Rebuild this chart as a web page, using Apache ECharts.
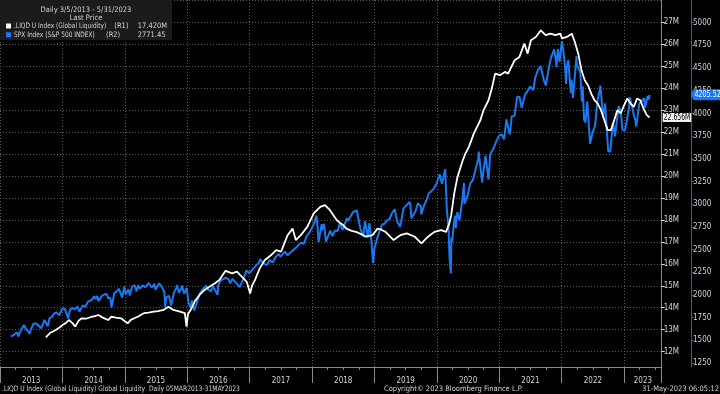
<!DOCTYPE html>
<html><head><meta charset="utf-8">
<script src="https://cdn.jsdelivr.net/npm/echarts@6/dist/echarts.min.js"></script>
<style>html,body{margin:0;padding:0;background:#000}#c{width:720px;height:394px}</style>
</head><body><div id="c"></div>
<script>
// ---------------- DATA ----------------
const liqDates = ['2013-09-26','2013-10-20','2013-11-23','2013-12-15','2014-01-01','2014-01-20','2014-02-08','2014-03-01','2014-03-17','2014-04-05','2014-04-24','2014-05-20','2014-06-21','2014-07-10','2014-07-30','2014-08-25','2014-09-25','2014-10-14','2014-11-10','2014-12-10','2014-12-30','2015-01-18','2015-02-05','2015-02-25','2015-03-20','2015-04-22','2015-05-20','2015-06-19','2015-07-15','2015-08-15','2015-09-13','2015-10-12','2015-11-19','2015-12-18','2015-12-28','2016-01-05','2016-01-25','2016-02-15','2016-03-13','2016-04-10','2016-05-10','2016-06-10','2016-07-07','2016-08-13','2016-09-20','2016-10-19','2016-11-16','2016-12-15','2017-01-04','2017-01-15','2017-02-01','2017-03-01','2017-03-31','2017-05-08','2017-06-05','2017-07-04','2017-08-11','2017-09-09','2017-09-28','2017-10-27','2017-12-04','2018-01-11','2018-02-18','2018-03-18','2018-04-16','2018-05-25','2018-06-15','2018-07-02','2018-07-21','2018-08-20','2018-09-16','2018-10-15','2018-11-12','2018-12-20','2019-01-19','2019-02-10','2019-03-07','2019-04-23','2019-06-01','2019-07-09','2019-08-25','2019-10-03','2019-11-10','2019-12-18','2020-01-26','2020-02-24','2020-03-14','2020-03-25','2020-04-12','2020-05-01','2020-05-20','2020-06-01','2020-06-17','2020-07-07','2020-08-05','2020-08-24','2020-09-12','2020-10-01','2020-10-30','2020-11-18','2020-12-08','2021-01-05','2021-02-03','2021-02-22','2021-03-12','2021-04-01','2021-04-29','2021-05-28','2021-06-16','2021-07-05','2021-08-03','2021-09-01','2021-09-29','2021-10-28','2021-11-25','2021-12-24','2022-01-03','2022-01-31','2022-03-01','2022-03-19','2022-04-08','2022-04-27','2022-05-16','2022-06-04','2022-06-23','2022-07-12','2022-07-31','2022-08-19','2022-09-08','2022-09-27','2022-10-16','2022-11-04','2022-11-23','2022-12-12','2023-01-01','2023-01-20','2023-02-08','2023-02-27','2023-03-18','2023-04-06','2023-04-25','2023-05-14','2023-05-30'];
const liqValues = [12.65,12.85,12.99,13.1,13.21,13.3,13.44,13.3,13.14,13.4,13.52,13.5,13.59,13.62,13.67,13.55,13.44,13.59,13.55,13.52,13.4,13.29,13.45,13.52,13.6,13.75,13.78,13.82,13.85,13.9,14.05,13.9,13.82,13.75,13.14,13.7,13.95,14.3,14.58,14.8,14.95,15.1,15.26,15.68,15.56,15.64,15.41,15.18,14.65,15.0,15.26,15.79,16.17,16.4,16.62,16.55,17.3,17.6,17.08,17.3,17.68,18.29,18.59,18.67,18.44,17.99,17.85,17.76,17.6,17.5,17.45,17.35,17.23,17.3,17.6,17.55,17.45,17.08,17.3,17.38,17.23,16.93,17.23,17.45,17.53,17.45,17.84,18.2,19.2,19.95,20.41,20.71,21.02,21.32,21.93,22.23,22.53,22.99,23.44,23.97,24.65,24.58,24.73,24.65,24.95,25.26,25.41,26.02,25.56,26.17,26.32,26.62,26.4,26.47,26.4,26.47,26.25,26.32,26.47,26.09,25.56,24.8,24.35,24.12,23.74,23.44,23.29,22.99,22.53,22.08,22.08,22.53,22.99,22.84,23.21,23.52,23.29,23.14,23.52,23.44,23.06,22.76,22.656];

const spxDates = ['2013-03-05','2013-03-15','2013-03-29','2013-04-12','2013-04-18','2013-04-30','2013-05-10','2013-05-21','2013-05-31','2013-06-07','2013-06-24','2013-06-28','2013-07-15','2013-07-31','2013-08-15','2013-08-30','2013-09-18','2013-09-30','2013-10-08','2013-10-18','2013-10-31','2013-11-15','2013-11-29','2013-12-13','2013-12-31',
'2014-01-15','2014-01-22','2014-02-03','2014-02-13','2014-02-28','2014-03-07','2014-03-14','2014-03-31','2014-04-04','2014-04-11','2014-04-30','2014-05-07','2014-05-15','2014-05-30','2014-06-13','2014-06-24','2014-06-30','2014-07-03','2014-07-17','2014-07-24','2014-07-31','2014-08-07','2014-08-21','2014-08-29','2014-09-05','2014-09-18','2014-09-25','2014-09-30','2014-10-08','2014-10-15','2014-10-22','2014-10-31','2014-11-14','2014-11-28','2014-12-05','2014-12-16','2014-12-29',
'2015-01-06','2015-01-15','2015-01-22','2015-01-30','2015-02-13','2015-02-27','2015-03-02','2015-03-11','2015-03-20','2015-03-31','2015-04-15','2015-04-24','2015-04-30','2015-05-06','2015-05-21','2015-05-29','2015-06-08','2015-06-15','2015-06-23','2015-06-29','2015-07-08','2015-07-20','2015-07-31','2015-08-10','2015-08-20','2015-08-25','2015-08-31','2015-09-17','2015-09-29','2015-10-15','2015-10-30','2015-11-03','2015-11-13','2015-11-30','2015-12-01','2015-12-14','2015-12-29',
'2016-01-08','2016-01-20','2016-01-29','2016-02-11','2016-02-29','2016-03-15','2016-03-31','2016-04-20','2016-04-29','2016-05-19','2016-05-31','2016-06-08','2016-06-27','2016-06-30','2016-07-15','2016-07-29','2016-08-15','2016-08-31','2016-09-09','2016-09-22','2016-09-30','2016-10-14','2016-11-04','2016-11-30','2016-12-13','2016-12-30',
'2017-01-26','2017-01-31','2017-02-28','2017-03-01','2017-03-27','2017-03-31','2017-04-13','2017-04-28','2017-05-17','2017-05-31','2017-06-19','2017-06-30','2017-07-26','2017-07-31','2017-08-10','2017-08-18','2017-08-31','2017-09-29','2017-10-15','2017-10-31','2017-11-15','2017-11-30','2017-12-18','2017-12-29',
'2018-01-12','2018-01-26','2018-02-02','2018-02-08','2018-02-26','2018-02-28','2018-03-12','2018-03-23','2018-04-02','2018-04-18','2018-04-30','2018-05-15','2018-05-31','2018-06-12','2018-06-29','2018-07-25','2018-07-31','2018-08-29','2018-08-31','2018-09-20','2018-09-28','2018-10-11','2018-10-29','2018-10-31','2018-11-07','2018-11-23','2018-11-30','2018-12-03','2018-12-14','2018-12-24','2018-12-31',
'2019-01-15','2019-01-31','2019-02-15','2019-02-28','2019-03-15','2019-03-22','2019-03-29','2019-04-15','2019-04-30','2019-05-13','2019-05-31','2019-06-03','2019-06-20','2019-06-28','2019-07-26','2019-07-31','2019-08-05','2019-08-15','2019-08-30','2019-09-12','2019-09-30','2019-10-02','2019-10-18','2019-10-31','2019-11-15','2019-11-29','2019-12-13','2019-12-31',
'2020-01-17','2020-01-31','2020-02-19','2020-02-28','2020-03-09','2020-03-16','2020-03-23','2020-03-26','2020-03-31','2020-04-08','2020-04-17','2020-04-21','2020-04-30','2020-05-13','2020-05-29','2020-06-08','2020-06-11','2020-06-30','2020-07-15','2020-07-31','2020-08-14','2020-08-31','2020-09-02','2020-09-23','2020-09-30','2020-10-12','2020-10-30','2020-11-09','2020-11-30','2020-12-15','2020-12-31',
'2021-01-15','2021-01-29','2021-02-12','2021-02-26','2021-03-04','2021-03-15','2021-03-31','2021-04-16','2021-04-30','2021-05-12','2021-05-31','2021-06-15','2021-06-30','2021-07-19','2021-07-30','2021-08-16','2021-08-31','2021-09-02','2021-09-20','2021-09-30','2021-10-04','2021-10-15','2021-10-29','2021-11-18','2021-11-30','2021-12-01','2021-12-10','2021-12-20','2021-12-31',
'2022-01-03','2022-01-18','2022-01-27','2022-01-31','2022-02-09','2022-02-23','2022-02-28','2022-03-08','2022-03-29','2022-03-31','2022-04-20','2022-04-29','2022-05-04','2022-05-12','2022-05-20','2022-05-31','2022-06-08','2022-06-16','2022-06-30','2022-07-15','2022-07-29','2022-08-16','2022-08-31','2022-09-12','2022-09-30','2022-10-12','2022-10-28','2022-10-31','2022-11-09','2022-11-30','2022-12-01','2022-12-13','2022-12-22','2022-12-30',
'2023-01-05','2023-01-18','2023-01-31','2023-02-02','2023-02-17','2023-02-28','2023-03-09','2023-03-13','2023-03-31','2023-04-14','2023-04-28','2023-05-04','2023-05-19','2023-05-26','2023-05-30'];
const spxValues = [1540,1560,1569,1588,1541,1598,1633,1669,1631,1643,1573,1606,1682,1686,1661,1633,1725,1682,1656,1745,1757,1798,1806,1775,1848,
1848,1844,1742,1829,1859,1878,1841,1872,1865,1816,1884,1867,1870,1924,1937,1949,1960,1985,1958,1988,1931,1910,1992,2003,2007,2011,1965,1972,1968,1862,1927,2018,2039,2068,2075,1972,2090,
2003,1992,2063,1995,2097,2105,2117,2040,2108,2068,2106,2117,2086,2081,2131,2107,2080,2084,2124,2058,2047,2128,2104,2104,2035,1867,1972,1990,1884,2023,2079,2109,2023,2080,2103,2012,2078,
1922,1859,1940,1829,1932,2015,2060,2102,2065,2040,2097,2119,2001,2099,2162,2174,2190,2171,2128,2177,2168,2133,2085,2199,2271,2239,
2298,2279,2364,2396,2342,2363,2329,2384,2357,2412,2453,2423,2477,2470,2438,2425,2472,2519,2553,2575,2564,2648,2690,2674,
2786,2873,2762,2581,2780,2714,2783,2588,2582,2708,2648,2711,2705,2787,2718,2846,2816,2914,2902,2931,2914,2729,2641,2712,2814,2633,2760,2790,2600,2351,2507,
2610,2704,2776,2784,2822,2800,2834,2906,2946,2812,2752,2744,2954,2942,3026,2980,2844,2848,2926,3009,2977,2887,2986,3038,3120,3141,3169,3231,
3330,3226,3386,2954,2747,2386,2237,2630,2585,2750,2875,2737,2912,2820,3044,3232,3002,3100,3227,3271,3373,3500,3580,3237,3363,3535,3270,3550,3622,3695,3756,
3768,3714,3934,3811,3768,3968,3973,4185,4181,4063,4204,4246,4298,4258,4395,4479,4523,4537,4358,4308,4300,4471,4605,4705,4567,4513,4712,4568,4766,
4796,4577,4326,4516,4587,4226,4374,4170,4631,4530,4459,4132,4300,3930,3901,4132,4116,3667,3785,3863,4130,4305,3955,4110,3586,3577,3901,3872,3748,4080,4077,4020,3822,3840,
3808,3929,4077,4180,4079,3970,3919,3855,4109,4137,4169,4061,4192,4151,4205.52];

const yearLabels = ['2013','2014','2015','2016','2017','2018','2019','2020','2021','2022','2023'];
const seriesNames = ['.LIQD U Index (Global Liquidity)', 'SPX Index (S&P 500 INDEX)'];
const seriesAxes = ['(R1)', '(R2)'];
const legendValues = ['17.420M', '2771.45'];
const lastLabels = ['22.656M', '4205.52'];
const titleLines = ['Daily 3/5/2013 - 5/31/2023', 'Last Price'];
const footer = ['.LIQD U Index (Global Liquidity) Global Liquidity  Daily 05MAR2013-31MAY2023', 'Copyright\u00A9 2023 Bloomberg Finance L.P.', '31-May-2023 06:05:12'];

// ---------------- LAYOUT ----------------
const WHITE = '#ffffff', BLUE = '#1a78f0', AXIS_BLUE = '#1c62c8', GRAY = '#8a8a8a', TXT = '#d2d2d2';
const FONT = "'Liberation Sans Narrow','DejaVu Sans Condensed','Liberation Sans',sans-serif";
const GRID_LEFT = -13.7, GRID_W = 675.4, PX_PER_YEAR = 63.7;
const X_MIN = 2013, X_MAX = X_MIN + GRID_W / PX_PER_YEAR;
const R2_OFFSET = 29.3;

function toYear(s){const [y,m,d]=s.split('-').map(Number);const t=Date.UTC(y,m-1,d),a=Date.UTC(y,0,1),b=Date.UTC(y+1,0,1);return y+(t-a)/(b-a);}

const chart = echarts.init(document.getElementById('c'), null, {renderer: 'canvas'});
const xBase = {type: 'value', min: X_MIN, max: X_MAX, interval: 1};
const option = {
  backgroundColor: '#000',
  animation: false,
  grid: [
    {left: GRID_LEFT, width: GRID_W, top: 0, height: 367},
    {left: GRID_LEFT, width: GRID_W, top: -0.3, height: 352},
    {left: GRID_LEFT, width: GRID_W, top: -13.2, height: 376.2}
  ],
  xAxis: [
    Object.assign({}, xBase, {gridIndex: 0,
      axisLine: {show: true, lineStyle: {color: GRAY, width: 1}},
      axisTick: {show: true, length: 16, lineStyle: {color: GRAY}},
      minorTick: {show: true, splitNumber: 4, length: 3, lineStyle: {color: GRAY}},
      splitLine: {show: true, lineStyle: {color: '#5a5a5a', type: [1, 2]}},
      axisLabel: {show: false}
    }),
    Object.assign({}, xBase, {gridIndex: 1, show: false}),
    Object.assign({}, xBase, {gridIndex: 2, show: false})
  ],
  yAxis: [
    {gridIndex: 0, type: 'value', position: 'right', min: 0, max: 1,
      axisLine: {show: true, onZero: false, lineStyle: {color: GRAY}}, axisTick: {show: false}, axisLabel: {show: false}, splitLine: {show: false}},
    {gridIndex: 0, type: 'value', position: 'right', offset: R2_OFFSET, min: 0, max: 1,
      axisLine: {show: true, onZero: false, lineStyle: {color: AXIS_BLUE}}, axisTick: {show: false}, axisLabel: {show: false}, splitLine: {show: false}},
    {gridIndex: 1, type: 'value', position: 'right', min: 12, max: 28, interval: 1,
      axisLine: {show: false}, axisTick: {show: true, length: 3, lineStyle: {color: '#e0e0e0'}},
      axisLabel: {margin: 2, color: TXT, fontSize: 8, fontFamily: FONT, showMaxLabel: false, formatter: v => v + 'M'},
      splitLine: {show: true, lineStyle: {color: '#5a5a5a', type: [1, 2]}}},
    {gridIndex: 2, type: 'value', position: 'right', offset: R2_OFFSET, min: 1250, max: 5250, interval: 250,
      axisLine: {show: false}, axisTick: {show: true, length: 3, lineStyle: {color: AXIS_BLUE}},
      axisLabel: {margin: 2, color: TXT, fontSize: 8, fontFamily: FONT, showMaxLabel: false, formatter: v => String(v)},
      splitLine: {show: false}}
  ],
  series: [
    {name: seriesNames[1], type: 'line', xAxisIndex: 2, yAxisIndex: 3, showSymbol: false, z: 2,
      data: spxDates.map((d, i) => [toYear(d), spxValues[i]]), lineStyle: {color: BLUE, width: 2}},
    {name: seriesNames[0], type: 'line', xAxisIndex: 1, yAxisIndex: 2, showSymbol: false, z: 3,
      data: liqDates.map((d, i) => [toYear(d), liqValues[i]]), lineStyle: {color: WHITE, width: 1.8}}
  ]
};
chart.setOption(option);

// ---------- year labels, legend, footer, last-value labels ----------
const xAt = v => chart.convertToPixel({xAxisIndex: 0}, v);
const visStart = Math.max(X_MIN, chart.convertFromPixel({xAxisIndex: 0}, 0));
const xR1 = xAt(X_MAX);
const yW = chart.convertToPixel({yAxisIndex: 2}, liqValues[liqValues.length - 1]);
const yB = chart.convertToPixel({yAxisIndex: 3}, spxValues[spxValues.length - 1]);
const tf = (text, x, y, extra, sx) => ({type: 'text', z: 100, x, y, scaleX: sx || 1, style: Object.assign({text, x: 0, y: 0, fill: TXT, fontSize: 7.5, fontFamily: FONT, verticalAlign: 'middle'}, extra || {})});
const yearTexts = yearLabels.map(t => {
  const y0 = Math.max(+t, visStart), y1 = Math.min(+t + 1, X_MAX);
  return tf(t, xAt((y0 + y1) / 2), 380.5, {align: 'center', fontSize: 8});
});
chart.setOption({graphic: [
  {type: 'rect', z: 90, shape: {x: 0, y: 0, width: 172, height: 40}, style: {fill: '#1b1b1b'}},
  tf(titleLines[0], 86, 10, {align: 'center'}),
  tf(titleLines[1], 86, 18.5, {align: 'center'}),
  {type: 'rect', z: 100, shape: {x: 6, y: 23.5, width: 5, height: 5}, style: {fill: WHITE}},
  tf(seriesNames[0], 14, 26.3, null, 0.87),
  tf(seriesAxes[0], 114.3, 26.3),
  tf(legendValues[0], 137.7, 26.3),
  {type: 'rect', z: 100, shape: {x: 6, y: 32.2, width: 5, height: 5}, style: {fill: BLUE}},
  tf(seriesNames[1], 14, 35, null, 0.87),
  tf(seriesAxes[1], 106, 35),
  tf(legendValues[1], 137.7, 35),
  tf(footer[0], 2, 389, null, 0.89),
  tf(footer[1], 384, 389),
  tf(footer[2], 719, 389, {align: 'right'}),
  {type: 'rect', z: 100, shape: {x: xR1 + 1, y: yW - 4.5, width: 28.5, height: 9}, style: {fill: '#f2f2f2'}},
  tf(lastLabels[0], xR1 + 2, yW, {fill: '#000', fontSize: 8}, 0.85),
  {type: 'polygon', z: 100, shape: {points: [[xR1 + R2_OFFSET, yB], [xR1 + R2_OFFSET + 2.5, yB - 5.5], [720, yB - 5.5], [720, yB + 5.5], [xR1 + R2_OFFSET + 2.5, yB + 5.5]]}, style: {fill: BLUE}},
  tf(lastLabels[1], xR1 + R2_OFFSET + 3.5, yB, {fill: '#fff', fontSize: 8}, 0.88)
].concat(yearTexts)});
</script>
</body></html>
